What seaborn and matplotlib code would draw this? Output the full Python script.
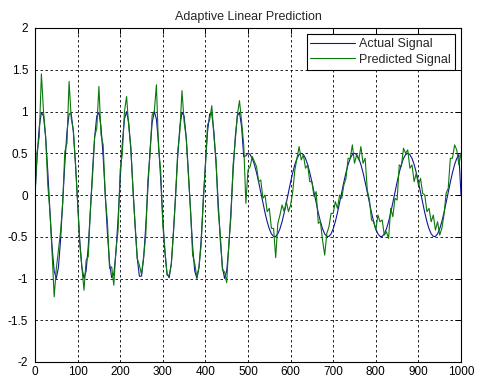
import numpy as np
import pandas as pd
import matplotlib
matplotlib.use("Agg")
import matplotlib.pyplot as plt
import seaborn as sns

# sample index (every 5th sample)
samples = list(range(0, 1001, 5))

actual_signal = [
    0.000, 0.458, 0.815, 0.990, 0.945, 0.690, 0.282, -0.189, -0.618, -0.910,
    -0.999, -0.866, -0.541, -0.095, 0.372, 0.756, 0.972, 0.972, 0.756, 0.372,
    -0.095, -0.541, -0.866, -0.999, -0.910, -0.618, -0.189, 0.282, 0.690, 0.945,
    0.990, 0.815, 0.458, 0.000, -0.458, -0.815, -0.990, -0.945, -0.690, -0.282,
    0.189, 0.618, 0.910, 0.999, 0.866, 0.541, 0.095, -0.372, -0.756, -0.972,
    -0.972, -0.756, -0.372, 0.095, 0.541, 0.866, 0.999, 0.910, 0.618, 0.189,
    -0.282, -0.690, -0.945, -0.990, -0.815, -0.458, 0.000, 0.458, 0.815, 0.990,
    0.945, 0.690, 0.282, -0.189, -0.618, -0.910, -0.999, -0.866, -0.541, -0.095,
    0.372, 0.756, 0.972, 0.972, 0.756, 0.372, -0.095, -0.541, -0.866, -0.999,
    -0.910, -0.618, -0.189, 0.282, 0.690, 0.945, 0.990, 0.815, 0.458, 0.470,
    0.500, 0.484, 0.438, 0.365, 0.268, 0.155, 0.031, -0.094, -0.213, -0.319,
    -0.405, -0.465, -0.496, -0.496, -0.465, -0.405, -0.319, -0.213, -0.094, 0.031,
    0.155, 0.268, 0.365, 0.438, 0.484, 0.500, 0.484, 0.438, 0.365, 0.268,
    0.155, 0.031, -0.094, -0.213, -0.319, -0.405, -0.465, -0.496, -0.496, -0.465,
    -0.405, -0.319, -0.213, -0.094, 0.031, 0.155, 0.268, 0.365, 0.438, 0.484,
    0.500, 0.484, 0.438, 0.365, 0.268, 0.155, 0.031, -0.094, -0.213, -0.319,
    -0.405, -0.465, -0.496, -0.496, -0.465, -0.405, -0.319, -0.213, -0.094, 0.031,
    0.155, 0.268, 0.365, 0.438, 0.484, 0.500, 0.484, 0.438, 0.365, 0.268,
    0.155, 0.031, -0.094, -0.213, -0.319, -0.405, -0.465, -0.496, -0.496, -0.465,
    -0.405, -0.319, -0.213, -0.094, 0.031, 0.155, 0.268, 0.365, 0.438, 0.484,
    0.000,
]

predicted_signal = [
    0.00, 0.52, 0.70, 1.45, 1.00, 0.70, 0.12, -0.20, -0.68, -1.22,
    -0.88, -0.66, -0.44, -0.10, 0.52, 0.62, 1.36, 0.92, 0.78, 0.38,
    -0.08, -0.58, -0.86, -1.14, -0.78, -0.74, -0.18, 0.22, 0.70, 0.80,
    1.30, 0.72, 0.60, -0.02, -0.32, -0.88, -0.86, -1.08, -0.66, -0.42,
    0.30, 0.50, 1.00, 1.18, 0.82, 0.58, 0.05, -0.36, -0.76, -0.84,
    -0.95, -0.74, -0.48, 0.18, 0.48, 0.96, 1.00, 1.32, 0.56, 0.30,
    -0.36, -0.66, -0.96, -0.96, -0.84, -0.44, -0.02, 0.52, 0.76, 1.25,
    0.88, 0.68, 0.24, -0.16, -0.72, -0.82, -0.99, -0.86, -0.60, -0.04,
    0.34, 0.84, 0.90, 1.07, 0.70, 0.42, -0.18, -0.48, -0.90, -0.92,
    -1.05, -0.58, -0.26, 0.36, 0.64, 0.96, 1.13, 0.88, 0.60, -0.10,
    0.30, 0.34, 0.46, 0.40, 0.34, 0.16, 0.18, -0.04, 0.00, -0.20,
    -0.16, -0.40, -0.40, -0.75, -0.34, -0.24, -0.12, -0.20, -0.08, -0.20,
    -0.12, 0.04, 0.30, 0.44, 0.58, 0.42, 0.48, 0.32, 0.36, 0.16,
    0.16, -0.02, 0.04, -0.34, -0.32, -0.54, -0.72, -0.46, -0.38, -0.22,
    -0.22, -0.08, -0.16, 0.00, -0.04, 0.12, 0.20, 0.44, 0.44, 0.60,
    0.38, 0.48, 0.42, 0.58, 0.38, 0.44, 0.06, -0.06, -0.30, -0.32,
    -0.42, -0.24, -0.32, -0.30, -0.48, -0.44, -0.52, -0.16, -0.26, -0.04,
    -0.06, 0.36, 0.34, 0.56, 0.50, 0.54, 0.32, 0.36, 0.16, 0.26,
    0.12, 0.20, 0.02, 0.00, -0.20, -0.16, -0.32, -0.24, -0.42, -0.32,
    -0.48, -0.40, -0.24, 0.02, 0.08, 0.44, 0.44, 0.60, 0.54, 0.36,
    0.50,
]

x_ticks = list(range(0, 1001, 100))
y_ticks = [-2, -1.5, -1, -0.5, 0, 0.5, 1, 1.5, 2]
y_tick_labels = ["-2", "-1.5", "-1", "-0.5", "0", "0.5", "1", "1.5", "2"]

sns.set_style("white")
plt.rcParams['font.family'] = ['Liberation Sans', 'DejaVu Sans']

df = pd.DataFrame({"n": samples, "actual": actual_signal, "pred": predicted_signal})

fig = plt.figure(figsize=(4.89, 3.89), dpi=100)
ax = fig.add_axes([35 / 489, 1 - 362 / 389, 426 / 489, 334 / 389])

sns.lineplot(data=df, x="n", y="actual", ax=ax, color="#15159a", lw=0.8,
             estimator=None, sort=False, label="Actual Signal")
sns.lineplot(data=df, x="n", y="pred", ax=ax, color="#0a780a", lw=0.8,
             estimator=None, sort=False, label="Predicted Signal")

ax.set_xlim(0, 1000)
ax.set_ylim(-2, 2)
ax.set_xticks(x_ticks)
ax.set_yticks(y_ticks)
ax.set_yticklabels(y_tick_labels)
ax.set_xlabel("")
ax.set_ylabel("")
ax.set_title("Adaptive Linear Prediction", fontsize=9, pad=6)

ax.grid(True, color="black", linestyle=(0, (3, 3)), linewidth=0.6)
ax.tick_params(direction="in", length=4, width=0.7, top=True, right=True,
               labelsize=8.5, colors="black", pad=3)
ax.tick_params(axis="y", pad=5)
for s in ax.spines.values():
    s.set_color("black")
    s.set_linewidth(0.8)

leg = ax.legend(loc="upper right", fontsize=9, handlelength=3.6,
                frameon=True, fancybox=False, borderaxespad=0.5,
                borderpad=0.3, labelspacing=0.3, handletextpad=0.3)
leg.get_frame().set_edgecolor("black")
leg.get_frame().set_linewidth(0.8)
leg.get_frame().set_alpha(1)

fig.savefig("out.png", dpi=100, facecolor="white")
